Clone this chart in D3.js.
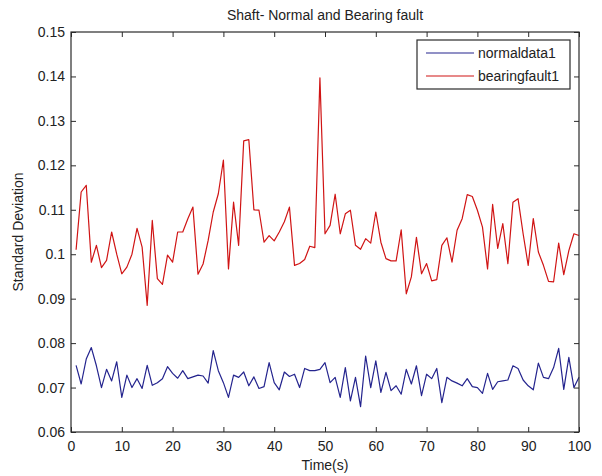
<!DOCTYPE html>
<html>
<head>
<meta charset="utf-8">
<script src="https://cdn.jsdelivr.net/npm/d3@7"></script>
<style>
  body { margin: 0; background: #fff; }
  text { font-family: "Liberation Sans", Arial, sans-serif; fill: #222; }
</style>
</head>
<body>
<div id="chart"></div>
<script>
// data, t = 1..100
var normaldata1 = [
  0.0750, 0.0708, 0.0764, 0.0790, 0.0749, 0.0700, 0.0741, 0.0715, 0.0758, 0.0678,
  0.0728, 0.0700, 0.0720, 0.0698, 0.0750, 0.0705, 0.0711, 0.0720, 0.0747, 0.0732,
  0.0721, 0.0738, 0.0720, 0.0724, 0.0728, 0.0726, 0.0710, 0.0783, 0.0738, 0.0711,
  0.0678, 0.0728, 0.0723, 0.0735, 0.0704, 0.0724, 0.0698, 0.0702, 0.0756, 0.0711,
  0.0695, 0.0735, 0.0725, 0.0730, 0.0700, 0.0743, 0.0738, 0.0738, 0.0741, 0.0756,
  0.0711, 0.0723, 0.0678, 0.0745, 0.0670, 0.0723, 0.0657, 0.0771, 0.0700, 0.0760,
  0.0689, 0.0734, 0.0693, 0.0704, 0.0685, 0.0741, 0.0708, 0.0749, 0.0682, 0.0730,
  0.0720, 0.0743, 0.0666, 0.0723, 0.0715, 0.0710, 0.0704, 0.0720, 0.0702, 0.0700,
  0.0687, 0.0732, 0.0696, 0.0713, 0.0715, 0.0717, 0.0749, 0.0743, 0.0717, 0.0704,
  0.0695, 0.0755, 0.0723, 0.0720, 0.0745, 0.0788, 0.0696, 0.0768, 0.0700, 0.0723
];
var bearingfault1 = [
  0.1010, 0.1140, 0.1155, 0.0982, 0.1020, 0.0970, 0.0986, 0.1050, 0.1000, 0.0956,
  0.0971, 0.1000, 0.1058, 0.1016, 0.0885, 0.1076, 0.0945, 0.0932, 0.0998, 0.0982,
  0.1050, 0.1050, 0.1080, 0.1106, 0.0955, 0.0978, 0.1031, 0.1095, 0.1136, 0.1212,
  0.0967, 0.1117, 0.1020, 0.1255, 0.1258, 0.1100, 0.1099, 0.1027, 0.1042, 0.1030,
  0.1050, 0.1073, 0.1106, 0.0975, 0.0979, 0.0988, 0.1018, 0.1015, 0.1397, 0.1046,
  0.1065, 0.1135, 0.1046, 0.1091, 0.1099, 0.1020, 0.1011, 0.1035, 0.1025, 0.1095,
  0.1027, 0.0990, 0.0985, 0.0985, 0.1055, 0.0911, 0.0949, 0.1038, 0.0956, 0.0979,
  0.0940, 0.0943, 0.1020, 0.1037, 0.0982, 0.1054, 0.1080, 0.1134, 0.1130, 0.1099,
  0.1061, 0.0967, 0.1112, 0.1013, 0.1069, 0.0979, 0.1117, 0.1125, 0.1046, 0.0975,
  0.1080, 0.1005, 0.0975, 0.0939, 0.0938, 0.1025, 0.0954, 0.1008, 0.1046, 0.1042
];
var seriesNames = ["normaldata1", "bearingfault1"];
var xTicks = [0, 10, 20, 30, 40, 50, 60, 70, 80, 90, 100];
var yTicks = [0.06, 0.07, 0.08, 0.09, 0.10, 0.11, 0.12, 0.13, 0.14, 0.15];
var yTickLabels = ["0.06", "0.07", "0.08", "0.09", "0.1", "0.11", "0.12", "0.13", "0.14", "0.15"];

var colors = ["#24248e", "#d01414"];

var W = 602, H = 476;
var margin = {top: 32, right: 23, bottom: 44, left: 71},
    width = W - margin.left - margin.right,
    height = H - margin.top - margin.bottom;

var svg = d3.select("#chart")
  .append("svg")
    .attr("width", W)
    .attr("height", H);

var g = svg.append("g")
    .attr("transform", "translate(" + margin.left + "," + margin.top + ")");

var x = d3.scaleLinear().domain([0, 100]).range([0, width]);
var y = d3.scaleLinear().domain([0.06, 0.15]).range([height, 0]);

// series lines
var line = d3.line()
  .x(function(d, i) { return x(i + 1); })
  .y(function(d) { return y(d); });

[normaldata1, bearingfault1].forEach(function(s, k) {
  g.append("path")
    .datum(s)
    .attr("d", line)
    .attr("fill", "none")
    .attr("stroke", colors[k])
    .attr("stroke-width", 1.2)
    .attr("stroke-linejoin", "round");
});

// axes, matlab style: ticks inside, box on
var axisColor = "#2b2b2b";
var tickLen = 5;

var axBottom = g.append("g")
  .attr("transform", "translate(0," + height + ")")
  .call(d3.axisBottom(x).tickValues(xTicks).tickSize(-tickLen).tickPadding(9));
var axTop = g.append("g")
  .call(d3.axisTop(x).tickValues(xTicks).tickSize(-tickLen).tickFormat(""));
var axLeft = g.append("g")
  .call(d3.axisLeft(y).tickValues(yTicks).tickSize(-tickLen).tickPadding(6)
    .tickFormat(function(d, i) { return yTickLabels[i]; }));
var axRight = g.append("g")
  .attr("transform", "translate(" + width + ",0)")
  .call(d3.axisRight(y).tickValues(yTicks).tickSize(-tickLen).tickFormat(""));

[axBottom, axTop, axLeft, axRight].forEach(function(a) {
  a.select(".domain").remove();
  a.selectAll("line").attr("stroke", axisColor);
  a.selectAll("text").attr("font-size", 14).attr("fill", "#222")
    .attr("font-family", "'Liberation Sans', Arial, sans-serif");
});

g.append("rect")
  .attr("width", width)
  .attr("height", height)
  .attr("fill", "none")
  .attr("stroke", axisColor)
  .attr("stroke-width", 1.2);

// title and labels
svg.append("text")
  .attr("x", margin.left + width / 2)
  .attr("y", 20)
  .attr("text-anchor", "middle")
  .attr("font-size", 14)
  .text("Shaft- Normal and Bearing fault");

svg.append("text")
  .attr("x", margin.left + width / 2)
  .attr("y", 470)
  .attr("text-anchor", "middle")
  .attr("font-size", 14)
  .text("Time(s)");

svg.append("text")
  .attr("transform", "translate(23," + (margin.top + height / 2) + ") rotate(-90)")
  .attr("text-anchor", "middle")
  .attr("font-size", 14)
  .text("Standard Deviation");

// legend
var lg = svg.append("g").attr("transform", "translate(417,40)");
lg.append("rect")
  .attr("width", 153)
  .attr("height", 49)
  .attr("fill", "#fff")
  .attr("stroke", axisColor)
  .attr("stroke-width", 1.2);

seriesNames.forEach(function(name, i) {
  var yy = 13 + i * 23;
  lg.append("line")
    .attr("x1", 9).attr("x2", 57)
    .attr("y1", yy).attr("y2", yy)
    .attr("stroke", colors[i])
    .attr("stroke-width", 1.2);
  lg.append("text")
    .attr("x", 61)
    .attr("y", yy)
    .attr("dy", "0.35em")
    .attr("font-size", 14)
    .text(name);
});
</script>
</body>
</html>
